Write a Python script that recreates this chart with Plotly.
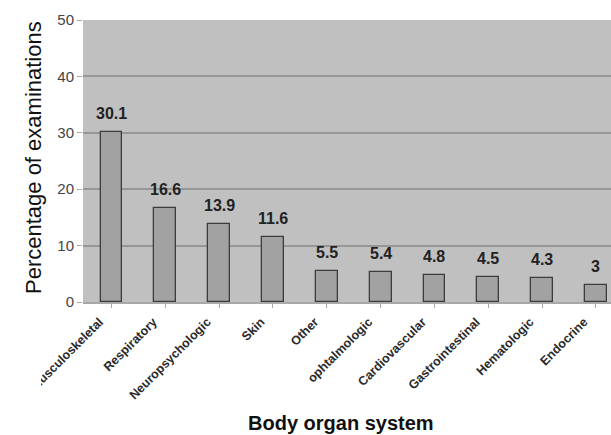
import plotly.graph_objects as go

categories = ["Musculoskeletal", "Respiratory", "Neuropsychologic", "Skin", "Other",
              "ophtalmologic", "Cardiovascular", "Gastrointestinal", "Hematologic", "Endocrine"]
values = [30.1, 16.6, 13.9, 11.6, 5.5, 5.4, 4.8, 4.5, 4.3, 3]
value_labels = ["30.1", "16.6", "13.9", "11.6", "5.5", "5.4", "4.8", "4.5", "4.3", "3"]
y_ticks = [0, 10, 20, 30, 40, 50]

W, H = 611, 435
L, R, T, B = 83, 0, 20, 133
FONT = "Liberation Sans, Arial, sans-serif"

fig = go.Figure()
fig.add_trace(go.Bar(
    x=list(range(len(categories))), y=values,
    width=0.405,
    marker=dict(color="#a2a2a2", line=dict(color="#3c3c3c", width=1.3)),
))

annotations = []
for i, (v, lab) in enumerate(zip(values, value_labels)):
    annotations.append(dict(
        x=i, y=v, xref="x", yref="y", text=f"<b>{lab}</b>", showarrow=False,
        yanchor="bottom", xanchor="center", yshift=8,
        font=dict(family=FONT, size=16, color="#222222"),
    ))

pw, ph = W - L - R, H - T - B
def px_x(x):
    return (x - L) / pw
def px_y(y):
    return (H - B - y) / ph

annotations.append(dict(
    text="Percentage of examinations", x=px_x(33), y=px_y(158),
    xref="paper", yref="paper", xanchor="center", yanchor="middle",
    showarrow=False, textangle=-90,
    font=dict(size=22, color="#111111", family=FONT)))
annotations.append(dict(
    text="<b>Body organ system</b>", x=px_x(341), y=px_y(423),
    xref="paper", yref="paper", xanchor="center", yanchor="middle",
    showarrow=False,
    font=dict(size=20, color="#111111", family=FONT)))

# white mask reproducing the clipped left edge of the first category label
shapes = [dict(type="rect", xref="paper", yref="paper", layer="above",
               x0=px_x(0), x1=px_x(41), y0=px_y(435), y1=px_y(306),
               fillcolor="white", line=dict(width=0))]

fig.update_layout(
    width=W, height=H,
    margin=dict(l=L, r=R, t=T, b=B, autoexpand=False),
    paper_bgcolor="white", plot_bgcolor="#c0c0c0",
    showlegend=False, bargap=0,
    font=dict(family=FONT, color="#333333"),
    xaxis=dict(
        range=[-0.53, 9.28], tickmode="array",
        tickvals=list(range(len(categories))), ticktext=categories,
        tickangle=-45, tickfont=dict(size=12.5, color="#2a2a2a", weight="bold"),
        ticklabelshift=-12, ticklabelstandoff=2,
        showgrid=False, zeroline=False, showline=True, linecolor="#a8a8a8",
        linewidth=1.5, automargin=False, ticks="outside", tickson="boundaries",
        ticklen=4, tickcolor="#a8a8a8",
    ),
    yaxis=dict(
        range=[0, 50], tickvals=y_ticks, tickfont=dict(size=15, color="#444444"),
        showgrid=True, gridcolor="#969696", gridwidth=1.5,
        zeroline=False, showline=False, ticks="outside", ticklen=5,
        tickcolor="#a8a8a8", automargin=False,
    ),
    annotations=annotations,
    shapes=shapes,
)

fig.write_html("out.html", config={"displayModeBar": False},
               post_script="document.body.style.margin='0px';document.body.style.overflow='hidden';")
